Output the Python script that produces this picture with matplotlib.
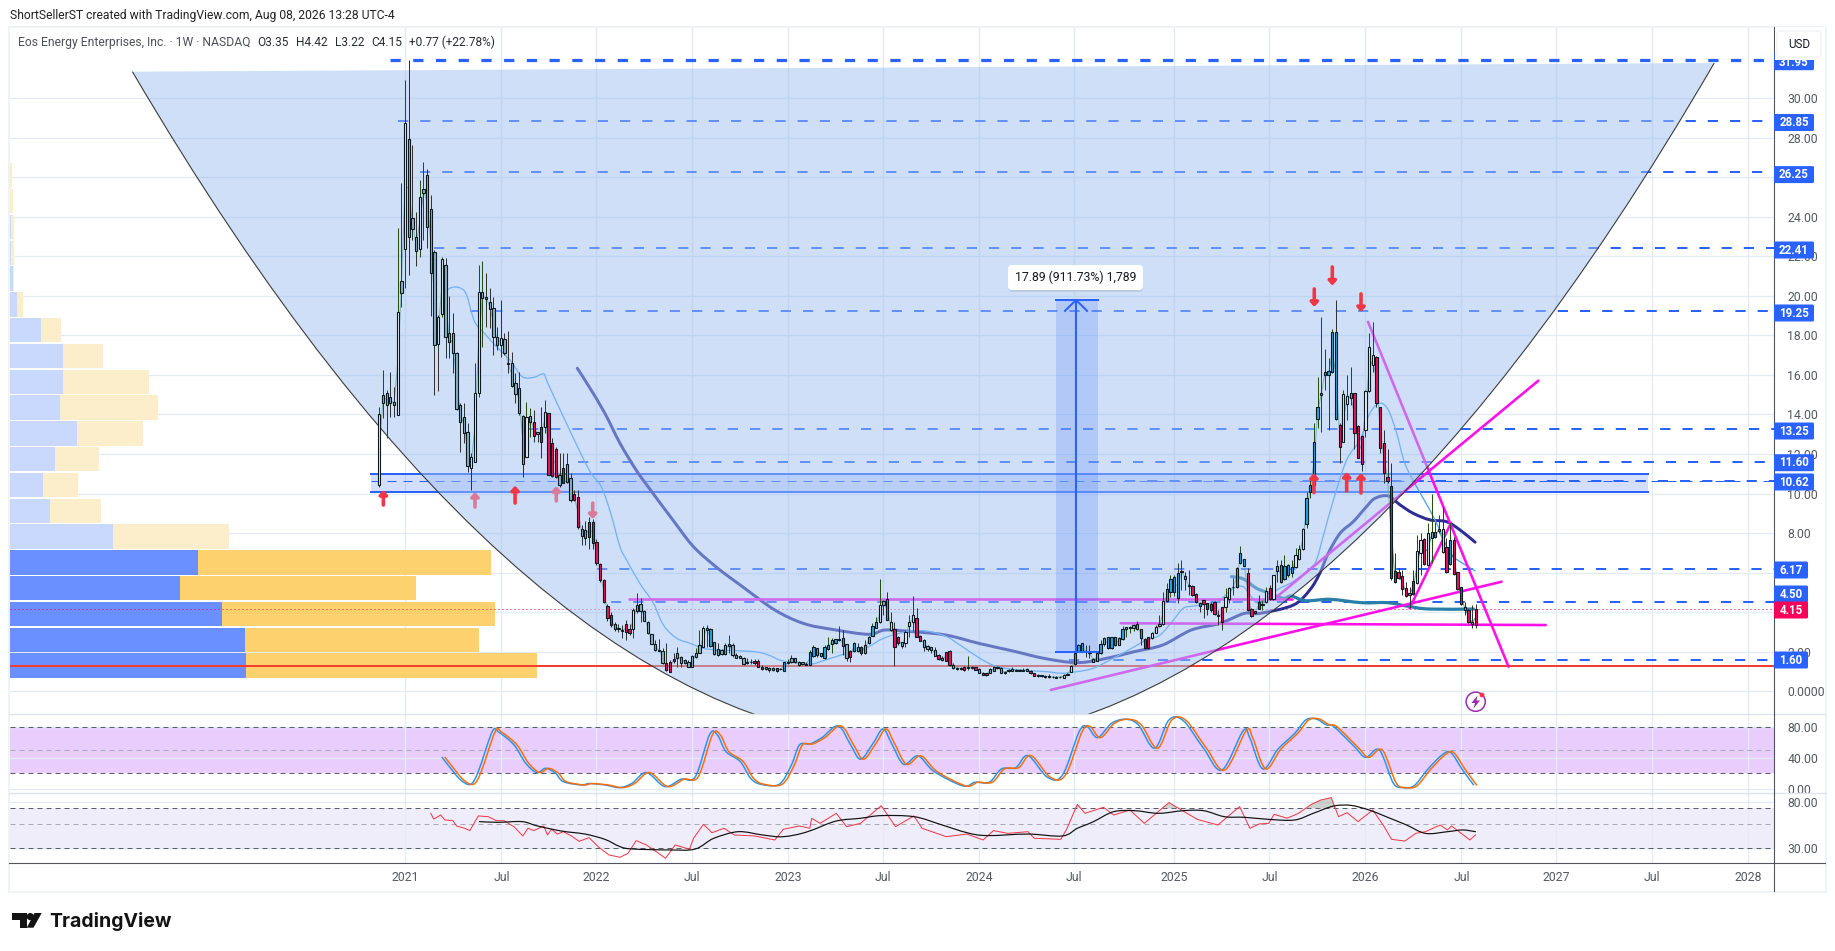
import numpy as np
import matplotlib
matplotlib.use("Agg")
import matplotlib.pyplot as plt
from matplotlib.path import Path
from matplotlib.patches import PathPatch, Rectangle, FancyBboxPatch, Circle, Polygon

plt.rcParams['font.family'] = ['Roboto', 'DejaVu Sans']

# ---- weekly candles: (high, body top, body bottom, low, kind)
bars_2020_21 = [
(14.39,14.01,10.43,10.35,'w'),(16.25,14.97,14.6,13.8,'g'),(15.24,15.10,14.48,12.79,'g'),(16.16,14.9,14.6,13.89,'g'),
(15.41,14.61,14.5,13.89,'g'),(23.41,19.17,13.99,13.99,'w'),(25.69,20.77,20.13,19.45,'g'),(30.92,28.73,22.37,20.38,'w'),
(31.95,27.92,22.96,21.05,'g'),(27.63,23.92,23.40,22.82,'g'),(24.26,22.96,22.28,21.51,'g'),(25.86,25.02,22.39,21.98,'w'),
(26.79,25.39,25.18,22.82,'g'),(26.40,26.11,23.5,22.40,'g'),(25.1,24.38,21.17,18.98,'g'),(22.32,22.23,17.53,14.98,'g'),
(19.03,18.91,17.55,15.2,'w'),(21.98,21.85,19.08,18.95,'w'),(21.9,21.54,17.93,16.84,'g'),(19.99,18.10,17.68,16.84,'g'),
(19.11,18.10,17.09,16.08,'g'),(17.18,17.13,14.28,14.23,'g'),(14.56,14.48,13.64,12.12,'g'),(14.56,13.85,13.08,12.54,'g'),
(13.55,13.13,11.41,11.11,'g'),(12.03,11.87,11.28,10.18,'w'),(16.6,15.1,11.61,11.61,'w'),(21.56,20.21,15.07,14.87,'w'),
(21.76,20.18,19.91,17.43,'g'),(21.14,19.92,19.82,18.44,'g'),(20.38,19.7,19.32,18.36,'g'),(19.96,19.4,17.93,17.0,'g'),
(18.44,17.93,17.53,17.26,'g'),(19.79,17.88,17.53,16.92,'w'),(18.1,17.8,17.09,17.0,'g'),(18.22,16.59,16.55,16.08,'g'),
(17.14,16.62,15.46,15.37,'g'),(16.08,15.61,15.03,14.56,'g'),(16.16,15.35,14.06,13.97,'g'),(13.97,13.94,11.48,10.85,'g'),
(14.65,13.85,11.87,11.87,'w'),(14.31,13.94,13.64,12.88,'g'),(14.23,13.64,12.91,12.62,'r'),(13.13,13.13,13.03,12.62,'g'),
(14.39,13.38,12.59,11.78,'r'),(14.73,14.14,13.38,13.04,'w'),(14.09,14.09,10.94,10.94,'r'),(12.79,12.54,10.9,10.85,'r'),
(12.34,12.24,10.82,10.77,'r'),(12.03,10.94,10.43,10.35,'g'),(12.03,11.28,10.55,10.52,'r'),(12.03,11.48,10.6,10.52,'g'),
(11.02,10.77,9.67,9.59,'g'),(10.18,9.96,9.67,9.64,'r'),(10.2,9.81,8.3,8.2,'r'),(8.41,8.21,7.86,7.4,'g'),
(8.6,8.16,7.75,7.4,'g'),(8.8,8.56,7.79,7.2,'r'),(8.7,8.56,7.5,7.2,'r'),(7.7,7.57,6.5,6.4,'r'),
]
bars_2022 = [
(6.5,6.42,5.63,5.55,'r'),(5.7,5.63,4.53,4.45,'r'),(4.4,4.33,3.69,3.55,'r'),(4.0,3.86,3.35,3.25,'r'),(3.5,3.39,3.13,3.05,'g'),
(3.4,3.22,3.13,3.0,'g'),(3.35,3.1,3.07,2.68,'g'),(3.6,3.39,2.98,2.6,'r'),(3.4,3.13,2.93,2.85,'r'),(4.2,4.11,3.15,2.68,'w'),
(4.95,4.37,4.08,3.95,'g'),(4.7,4.4,4.08,3.52,'g'),(4.1,4.06,3.57,3.55,'g'),(3.56,3.5,2.93,2.9,'g'),(2.9,2.9,2.39,2.37,'g'),
(2.6,2.38,2.09,2.05,'g'),(2.66,2.09,2.06,2.04,'g'),(2.17,2.06,1.42,1.4,'g'),(2.43,1.42,1.08,1.0,'r'),(1.58,1.5,0.99,0.97,'r'),
(1.95,1.63,1.53,1.45,'r'),(2.22,1.92,1.67,1.25,'g'),(1.76,1.75,1.42,1.25,'g'),(1.62,1.58,1.45,1.4,'g'),(1.58,1.47,1.21,1.21,'g'),
(1.84,1.79,1.25,1.21,'g'),(2.17,1.95,1.75,1.67,'g'),(3.1,2.32,1.95,1.92,'g'),(3.3,3.18,2.26,2.22,'w'),(3.35,3.18,3.1,2.26,'g'),
(3.2,3.13,2.29,2.26,'t'),(2.51,2.48,1.87,1.84,'g'),(2.42,2.14,1.82,1.8,'g'),(2.12,2.09,1.87,1.84,'g'),(2.42,2.32,1.89,1.84,'g'),
(2.85,2.38,2.29,1.92,'g'),(2.42,2.32,1.82,1.75,'g'),(1.92,1.84,1.7,1.67,'g'),(1.84,1.79,1.7,1.67,'g'),(1.72,1.7,1.36,1.33,'g'),
(1.67,1.5,1.45,1.38,'g'),(1.62,1.5,1.47,1.38,'g'),(1.62,1.52,1.45,1.33,'r'),(1.62,1.55,1.21,1.21,'r'),(1.33,1.21,1.14,1.08,'r'),
(1.25,1.21,1.11,1.08,'g'),(1.25,1.18,1.08,0.99,'g'),(1.25,1.2,1.08,1.03,'g'),(1.2,1.16,1.03,0.99,'r'),(1.16,1.14,1.11,1.08,'g'),
(1.5,1.47,1.04,1.04,'t'),(1.65,1.48,1.42,1.38,'g'),(1.84,1.67,1.47,1.41,'g'),(1.7,1.67,1.5,1.41,'g'),(1.55,1.5,1.33,1.28,'g'),
(1.5,1.48,1.38,1.33,'g'),(1.5,1.38,1.35,1.33,'g'),(2.09,2.0,1.35,1.33,'t'),(2.34,2.26,1.8,1.75,'t'),(2.2,2.17,1.84,1.72,'t'),
(1.95,1.92,1.79,1.72,'g'),(2.34,2.22,1.67,1.63,'t'),(2.76,2.34,2.12,2.09,'t'),(2.68,2.6,2.39,1.92,'g'),(2.66,2.63,2.43,2.4,'t'),
(3.3,2.63,2.58,2.56,'g'),(3.1,2.68,2.29,1.84,'t'),(2.38,2.38,1.7,1.53,'g'),(2.1,2.04,1.72,1.5,'r'),(2.51,2.43,2.06,1.99,'t'),
(2.46,2.22,2.06,2.0,'g'),(2.3,2.22,1.92,1.85,'r'),(2.6,2.34,1.92,1.87,'g'),(2.8,2.73,2.43,2.4,'g'),(3.47,3.32,2.81,2.8,'t'),
(3.77,3.49,3.18,3.18,'g'),(5.66,4.37,3.49,3.44,'w'),(4.62,4.58,4.37,3.86,'g'),(5.04,4.67,3.61,3.6,'t'),
]
bars_2023_24 = [
(4.03,3.5,3.1,3.07,'w'),(3.52,3.13,2.26,1.28,'r'),(2.8,2.73,2.43,2.34,'r'),(2.51,2.48,2.31,2.2,'g'),(3.1,2.98,2.43,2.26,'w'),
(3.86,3.49,3.32,2.76,'w'),(4.82,3.84,3.49,3.07,'w'),(4.2,3.69,2.76,2.73,'r'),(2.85,2.8,2.56,2.53,'r'),(2.63,2.6,2.26,2.06,'g'),
(2.32,2.29,2.16,2.06,'g'),(2.24,2.22,2.07,1.92,'g'),(2.22,2.07,1.8,1.78,'g'),(1.86,1.84,1.63,1.6,'r'),(1.78,1.7,1.58,1.55,'g'),
(2.0,1.99,1.55,1.53,'r'),(2.08,2.06,1.31,1.28,'r'),(1.41,1.33,1.16,1.14,'g'),(1.25,1.2,1.13,1.08,'g'),(1.25,1.2,1.13,1.06,'g'),
(1.3,1.25,1.08,1.03,'r'),(1.78,1.25,1.16,1.08,'g'),(1.28,1.21,1.16,1.11,'g'),(1.25,1.21,1.08,1.06,'r'),(1.16,1.11,0.92,0.9,'g'),
(0.97,0.94,0.82,0.8,'r'),(0.94,0.92,0.81,0.78,'r'),(1.16,1.14,0.94,0.9,'g'),(1.28,1.21,1.04,1.01,'g'),(1.28,1.25,1.16,1.11,'g'),
(1.22,1.2,0.94,0.9,'g'),(1.03,0.99,0.94,0.87,'g'),(1.11,1.08,1.03,0.97,'g'),(1.21,1.13,1.04,1.01,'g'),(1.11,1.08,1.04,1.0,'g'),
(1.11,1.08,1.04,1.0,'g'),(1.16,1.09,1.03,1.0,'g'),(1.16,1.13,1.01,1.0,'g'),(1.06,1.03,0.91,0.88,'r'),(0.94,0.91,0.77,0.75,'r'),
(0.87,0.82,0.76,0.72,'g'),(0.84,0.81,0.76,0.72,'g'),(0.84,0.79,0.71,0.68,'g'),(0.86,0.77,0.72,0.68,'g'),(0.77,0.74,0.71,0.68,'g'),
(0.77,0.74,0.69,0.66,'g'),(0.75,0.74,0.71,0.68,'g'),(0.86,0.82,0.69,0.68,'w'),(0.94,0.89,0.84,0.82,'g'),(1.31,1.28,0.99,0.97,'w'),
(2.0,1.92,1.36,1.33,'t'),(2.38,2.32,2.04,2.0,'t'),(2.46,2.43,1.99,1.97,'t'),(2.36,2.04,1.99,1.75,'g'),(2.34,2.0,1.95,1.66,'g'),
(1.7,1.65,1.5,1.48,'g'),(1.95,1.92,1.55,1.53,'g'),(2.6,2.38,1.92,1.9,'t'),(2.76,2.68,2.38,2.3,'g'),(2.76,2.73,2.17,2.12,'t'),
(2.76,2.73,2.17,2.12,'t'),(2.76,2.73,2.32,2.29,'t'),(2.73,2.68,2.34,2.32,'g'),(3.32,3.13,2.63,2.6,'t'),(3.27,3.23,3.13,2.76,'g'),
(3.32,3.23,3.18,2.96,'g'),(3.4,3.35,3.18,3.05,'g'),(3.57,3.4,3.15,3.1,'g'),(3.15,3.13,2.68,2.34,'t'),(2.68,2.65,2.17,2.12,'r'),
(2.76,2.73,2.17,2.12,'r'),(3.02,2.93,2.71,2.63,'w'),(3.35,3.23,2.97,2.93,'w'),(3.86,3.4,3.3,3.27,'g'),(5.04,4.55,3.38,3.36,'w'),
(5.46,5.16,4.58,4.53,'t'),(5.88,5.66,5.04,4.79,'t'),(5.9,5.8,5.0,4.82,'t'),(6.47,6.0,4.7,4.45,'t'),
]
bars_2025 = [
(6.64,6.08,6.05,5.12,'g'),(6.05,5.83,5.7,5.12,'g'),(6.14,5.36,5.33,4.87,'g'),(5.38,5.33,4.87,4.84,'r'),(4.96,4.9,4.5,4.45,'r'),
(4.53,4.45,4.33,4.03,'t'),(4.62,4.6,4.43,3.69,'r'),(4.48,4.45,4.15,3.86,'r'),(4.53,4.4,4.13,4.03,'r'),(4.58,4.52,3.91,3.86,'r'),
(4.11,3.86,3.83,3.35,'g'),(4.28,4.25,3.49,3.1,'r'),(5.21,4.75,4.28,4.03,'w'),(5.29,5.21,4.65,4.45,'w'),(5.71,5.29,5.26,4.87,'g'),
(6.3,6.22,5.26,5.21,'t'),(7.37,6.98,6.47,6.44,'t'),(6.71,6.71,6.35,6.34,'t'),(6.22,5.97,4.11,4.08,'r'),(4.2,4.15,3.81,3.74,'r'),
(4.08,4.05,3.94,3.91,'r'),(4.87,4.5,4.18,4.15,'r'),(4.62,4.42,4.36,4.11,'g'),(5.29,5.06,4.5,4.48,'w'),(5.38,5.21,4.67,4.62,'r'),
(5.9,5.87,4.65,4.62,'w'),(6.64,6.35,6.1,5.55,'g'),(6.64,6.39,5.51,5.46,'t'),(6.89,6.35,5.66,5.63,'t'),(6.44,6.39,5.87,5.8,'t'),
(6.64,6.3,5.97,5.8,'t'),(7.23,6.89,6.3,6.22,'w'),(7.4,7.18,6.69,6.64,'w'),(8.24,8.19,7.18,7.15,'w'),(10.1,9.76,8.45,8.24,'t'),
(10.69,10.43,10.1,9.76,'t'),(13.56,12.6,10.44,10.35,'t'),(15.92,14.4,13.79,13.3,'t'),(18.95,15.07,15.01,13.13,'g'),
(17.3,16.14,16.02,15.24,'t'),(16.84,16.2,15.98,13.22,'t'),(18.31,18.19,16.17,16.09,'t'),(19.79,18.19,13.76,13.72,'t'),
(13.56,13.47,12.34,11.57,'r'),(15.24,15.02,12.63,12.6,'w'),(16.0,14.96,14.52,13.72,'w'),(16.42,15.07,14.82,14.48,'g'),
(15.11,15.07,13.05,12.24,'r'),(13.47,13.42,11.82,11.79,'r'),(12.97,12.93,11.48,11.15,'r'),(15.24,15.21,13.22,12.88,'w'),
]
bars_2026 = [
(18.11,17.4,15.21,15.16,'w'),(18.66,17.01,16.51,16.17,'w'),(16.96,16.93,14.6,14.37,'r'),(14.4,14.37,12.29,12.04,'r'),
(13.22,12.54,11.03,10.55,'r'),(12.24,10.86,10.66,10.52,'r'),(11.53,10.4,5.72,5.63,'r'),(6.98,6.09,5.51,5.46,'r'),
(6.22,6.02,5.73,5.7,'r'),(6.14,5.85,5.19,4.87,'r'),(5.55,5.21,4.84,4.79,'r'),(5.29,4.96,4.86,4.2,'g'),(6.14,5.6,4.91,4.87,'r'),
(7.91,7.12,5.46,5.43,'w'),(8.0,7.66,6.98,5.88,'w'),(7.74,7.69,6.42,6.39,'r'),(8.5,8.0,6.37,6.34,'w'),(9.98,8.04,7.77,6.47,'g'),
(8.58,8.04,7.79,7.74,'t'),(8.92,8.19,8.13,8.0,'g'),(9.34,8.19,7.06,6.98,'w'),(7.74,7.32,6.05,5.97,'r'),(8.5,7.66,6.44,6.39,'t'),
(7.82,7.66,5.94,5.88,'r'),(6.05,6.02,5.18,5.13,'r'),(5.29,5.26,4.42,4.37,'r'),(4.54,4.25,4.11,3.86,'g'),(4.15,4.11,3.52,3.47,'r'),
(4.37,3.52,3.39,3.19,'g'),(4.42,4.15,3.35,3.22,'r'),
]

# ---- moving averages on the price pane: bar number, value
ma_fast_bar = [18.4,20,22.1,23.7,25.9,28.6,31.8,35.5,38.8,42,44.7,45.8,51.7,57,60.3,62.9,65.4,67.2,70.8,74.5,77.2,80.8,84.4,88.1,91.7,96.2,102.6,106.2,109.8,117.1,120.7,126.1,132.5,136.1,138.8,140.6,145.1,149.6,154.2,157.8,163.2,167.8,174.1,181.4,185.4,189.5,194,199.5,204.9,208.5,212.2,215.8,218.5,221.2,227.6,232.1,234.8,236.6,239.3,243.9,248.4,253,254.7,256.5,259.3,262.9,266.5,269.2,271.9,274.2,276.5,278.7,281.9,285.5,288.2,291,293.7,297.8]
ma_fast_val = [20.3,20.44,20.39,20.05,18.7,18.1,17.44,16.76,15.92,15.88,16.05,15.58,13.22,11.2,10.35,9.0,7.31,6.64,5.46,4.45,3.35,2.68,2.43,2.17,2.09,2.06,1.99,1.8,1.53,1.38,1.55,1.87,2.22,2.6,2.8,2.9,3.07,3.02,2.76,2.34,1.67,1.25,1.08,0.99,0.91,0.99,1.16,1.67,2.22,2.6,2.85,3.6,4.2,4.31,4.53,5.21,5.29,4.87,4.45,5.12,5.55,6.22,6.64,7.82,9.68,11.7,12.71,14.06,14.57,14.23,13.05,11.53,10.35,9.17,8.16,6.98,6.56,6.09]
ma_slow_bar = [53.8,57,61.3,65.4,69.8,73.7,79.8,85.4,92,98.7,107.5,115.3,123.1,133,137.5,145.3,154.1,163,171.9,180.8,189.3,196.3,205.1,212.9,220.7,228.4,235.1,239.3,248.4,252.9,255.6,257.9,261.1,264.7,268.3,270.6,274.2,277.4,281,285.5,290,293.7,297.8]
ma_slow_val = [16.34,15.41,14.06,12.55,11.19,10.18,8.66,7.31,6.22,5.29,4.11,3.43,3.13,2.88,3.1,3.01,2.84,2.42,2.05,1.66,1.45,1.61,2.0,2.34,3.1,3.43,3.94,3.94,4.36,5.13,5.97,6.98,7.99,8.58,9.34,9.76,9.88,9.43,9.0,8.67,8.58,8.16,7.54]
ma_teal_bar = [231.6,234.8,238.4,242,245.7,247.8,251.8,258.4,267,274.1,279.2,285.3,297.4]
ma_teal_val = [5.8,5.68,5.21,4.96,4.7,4.82,4.58,4.65,4.48,4.48,4.31,4.16,4.16]

# ---- horizontal levels: price, first bar
levels = [31.95,28.85,26.25,22.41,19.25,13.25,11.60,6.17,4.50,1.60]
level_start = [2.9,5.1,11,14.9,24.6,40.4,54,59.2,63,187.4]
level_10_62 = 10.62
last_close = 4.15
support = 1.28

# ---- volume profile by price row
vp_row_price = [1.30,2.605,3.91,5.215,6.52,7.825,9.13,10.435,11.74,13.045,14.35,15.655,16.96,18.265,19.57,20.875,22.18,23.485,24.79,26.095]
vp_up = [236.5,235.5,212.5,170.5,188.5,103.5,40.5,33.5,45.5,67.5,50.5,53.5,53.5,31.5,7.5,4,1.5,1.5,1,0.8]
vp_down = [291,234,273,236,293,116,51,35,44,66,98,86,40,20,6,0.6,3,3,2.5,2]

# ---- stochastic RSI
stoch_bar = [17.06,19.4,22.1,24.8,26.9,30.7,32.5,36.6,39.8,42.8,45.2,47.9,50,54.9,57,61.3,65.4,68.7,72.6,77.6,82,85.9,89.8,92,94.2,98.1,100.9,103.7,108.7,112,114.2,117,120.3,124.7,128.1,130.8,134.2,136.9,139.2,142.5,146.4,150.8,158.6,161.9,165.8,169.1,173,176.3,181.6,185.7,190.2,192.4,195.2,199,202.9,206.3,210.7,214.6,218.5,224,229,234.8,236.6,240.1,244.2,248.8,251.8,254.6,257.4,259.4,265,268,271,272.6,275.6,278.2,281.2,284.8,288.8,291.2,294.4,297.4]
stoch_k = [40.9,26.7,11.7,6.1,22.5,74,73.2,56.9,33.2,21.2,26.7,20.3,9.5,5.2,7,5.2,1.8,7.4,21.2,3.1,12.6,16,70.6,68.9,48.3,35.4,13.9,6.1,6.1,31,56.9,58.1,66.3,81.4,56.9,38.4,59,77.5,59,31.9,42.7,22.5,4,8.7,8.7,25.9,27.6,43.1,15.1,18.2,74,80.5,66.3,84.8,90,82.7,52.6,89.1,88.2,52.6,24.6,75.3,65.5,25.9,51.3,71.9,89.1,90.4,82.7,80.5,54.7,40.9,51.3,43.9,7.4,1.8,4,24.6,43.9,46.9,24.6,5.2]

# ---- RSI and its average
rsi_bar = [14,14.8,16.7,17.8,20,21,23.2,24.6,26.9,29.6,31.8,33.9,36.6,39,40.4,42,44.7,45.7,46.8,48.4,50,52.2,54.3,57,59.7,62.4,65.4,67.6,69.8,72.6,75.9,77.8,80.4,84.3,85.4,88.1,90.4,93.7,96.5,102,107.5,109.8,114.2,117,117.5,119.8,124.2,127,130.8,136.4,140.3,145.3,147.5,154.1,159.7,164.1,166.9,170.8,176.3,178,185.2,186.8,189.7,191.8,196.8,199.6,204,207.9,214.6,222.3,227.9,233.8,236.6,239.1,241.7,243.2,246.7,249.8,253.3,255.9,258.7,260.7,263,266,270,273.1,275.1,278.7,281.7,284.3,288.3,290.3,291.4,296.4,297.9]
rsi_val = [62.7,55.5,60.5,54.4,53.6,47.8,45.5,43.3,59.3,58.4,53.6,53.6,47.1,38.6,45.5,43.3,47.8,39.4,44.5,40.2,42.3,38.6,34.4,37.2,30.2,25.7,24.4,26.6,34.9,31.8,26.6,23.9,31.8,29,36.7,49.5,41.4,45.5,39.4,38.6,35.4,44.5,47.8,45.5,56.4,50.6,62.7,47.1,50.6,73.9,47.1,59.3,45.5,38,40.2,35.4,43.3,40.8,42.3,36.7,35.9,44.5,76.1,62.7,71.4,60.5,67.4,50.6,78.9,55.1,48.8,72.4,45.5,49.9,50.6,61.4,56.4,62.7,76.1,83.5,87.8,58.4,63.6,52.5,67.4,47.1,35.9,34.6,40.8,42.3,48.8,43.9,47.8,35.4,39.4]
rsi_ma_bar = [27.2,32.3,38.8,43,49.5,55.9,61.3,65.4,68.7,78.7,85.9,90.9,97.6,104.2,109.8,116.4,124.2,130.8,136.4,145.3,153,159.7,165.2,176.3,185.7,189.7,194.1,199.6,205.2,211.8,218.5,224,229.6,235.1,241.7,248.8,253.8,259.4,264,269,273.6,279.2,284.3,290.3,294.4,297.9]
rsi_ma_val = [52.5,51.7,52.5,47.8,42.9,40.2,35.9,30.7,29.2,28.6,29.2,36.7,42.3,39.4,38,42.3,53.2,56.4,59.7,58.4,48.8,41.4,38.9,40.2,38.6,45.5,52.5,65,66.4,62.7,66.4,66.4,58.4,57.6,55.1,54.4,62.7,73.4,74.4,67.4,58.4,48.8,40.8,42.3,43.9,42.3]

# ---- time axis
x_tick_bar = [7,33.2,58.9,85,111.2,136.9,163.1,188.8,216,241.9,267.9,294.1,319.8,345.9,371.9]
x_tick_lab = ['2021','Jul','2022','Jul','2023','Jul','2024','Jul','2025','Jul','2026','Jul','2027','Jul','2028']
price_ticks = [0,2,4,6,8,10,12,14,16,18,20,22,24,26,28,30]
price_tick_hidden = [4,6,26]

def curve_path(xs, ys):
    """A smooth Catmull-Rom path through the read points."""
    x = np.asarray(xs, float); y = np.asarray(ys, float)
    v = [(x[0], y[0])]; c = [Path.MOVETO]
    for i in range(len(x)-1):
        a = max(i-1, 0); d = min(i+2, len(x)-1)
        v += [(x[i]+(x[i+1]-x[a])/6, y[i]+(y[i+1]-y[a])/6),
              (x[i+1]-(x[d]-x[i])/6, y[i+1]-(y[d]-y[i])/6),
              (x[i+1], y[i+1])]
        c += [Path.CURVE4]*3
    return Path(v, c)

def draw_curve(a, xs, ys, color, lw, z):
    a.add_patch(PathPatch(curve_path(xs, ys), fc='none', ec=color, lw=lw, zorder=z, capstyle='round', joinstyle='round'))

W, H = 1835, 951
fig = plt.figure(figsize=(W/100, H/100), dpi=100, facecolor='white')
PX = 0.72
def pane(t, b):
    return fig.add_axes([9.5/W, 1-b/H, (1773.5-9.5)/W, (b-t)/H])
ax = pane(27, 714)
ax_st = pane(714, 793)
ax_rs = pane(793, 863)
XMIN, XMAX = -100.5, 378.9
GRID = '#e3ebf3'
TXT = '#55585f'
for a in (ax, ax_st, ax_rs):
    a.set_xlim(XMIN, XMAX)
    a.set_xticks(x_tick_bar)
    a.grid(True, color=GRID, lw=1.4*PX, zorder=0)
    a.set_axisbelow(True)
    a.yaxis.tick_right()
    a.tick_params(axis='both', length=0, labelsize=8.8, labelcolor=TXT, pad=10)
    for s in a.spines.values():
        s.set_visible(False)
    a.patch.set_alpha(0)
    a.tick_params(axis='x', labelbottom=False)
ax_rs.tick_params(axis='x', labelbottom=True, pad=6)
ax_rs.set_xticklabels(x_tick_lab)

# ---- price pane
ax.set_ylim(-1.15, 33.6)
ax.set_yticks(price_ticks)
ax.set_yticklabels(['0.0000' if v == 0 else ('' if v in price_tick_hidden else f'{v:.2f}') for v in price_ticks])

# volume profile
x0 = XMIN
up = np.array(vp_up)/3.68
down = np.array(vp_down)/3.68
hl = np.arange(len(vp_up)) < 5
ax.barh(vp_row_price, up, left=x0, height=1.24, color=np.where(hl, '#6a90ff', '#c9d8fd'), zorder=1)
ax.barh(vp_row_price, down, left=x0+up, height=1.24, color=np.where(hl, '#fcd16e', '#fdeecb'), zorder=1)

BLUE = '#2962ff'
MAG = '#ff10e8'
# zone
ax.add_patch(Rectangle((-2.3, 10.1), 347.2, 0.89, fc=BLUE, alpha=0.2, ec='none', zorder=2))
ax.plot([-2.3, 344.9], [10.99, 10.99], color=BLUE, lw=2*PX, zorder=2.2)
ax.plot([-2.3, 344.9], [10.1, 10.1], color=BLUE, lw=2*PX, zorder=2.2)
# levels
for i, (p, s) in enumerate(zip(levels, level_start)):
    if i == 0:
        ax.plot([s, XMAX], [p, p], color=BLUE, lw=3.2*PX, ls=(0, (3.2, 3.9)), zorder=2.4)
    else:
        ax.plot([s, XMAX], [p, p], color=BLUE, lw=2*PX, ls=(0, (5.1, 6.0)), zorder=2.4)
ax.plot([-2.3, XMAX], [level_10_62]*2, color=BLUE, lw=1*PX, ls=(0, (9, 7)), zorder=2.4)
ax.plot([202.6, XMAX], [level_10_62]*2, color=BLUE, lw=2*PX, ls=(0, (5.1, 6.0)), zorder=2.4)
ax.plot([XMIN, XMAX], [support]*2, color='#f23d2f', lw=2*PX, zorder=2.5)
ax.plot([XMIN, XMAX], [last_close]*2, color='#f7045a', lw=1*PX, ls=(0, (1, 3)), zorder=2.5)

# moving averages
draw_curve(ax, ma_slow_bar, ma_slow_val, '#2f2c96', 3*PX, 2.6)
draw_curve(ax, ma_fast_bar, ma_fast_val, '#4ba3f7', 1.3*PX, 2.6)
draw_curve(ax, ma_teal_bar, ma_teal_val, '#2a7fa8', 3.2*PX, 2.6)

# magenta trend lines
for xs, ys in [([268.7, 306.9], [18.69, 1.24]), ([242.9, 315], [4.62, 15.71]), ([182.5, 305], [0.07, 5.54]),
               ([67.9, 248], [4.67, 4.67]), ([201.5, 317], [3.44, 3.35]), ([280, 291], [4.2, 8.41])]:
    ax.plot(xs, ys, color=MAG, lw=2.6*PX, zorder=2.7, solid_capstyle='round')

# candles
rows = bars_2020_21 + bars_2022 + bars_2023_24 + bars_2025 + bars_2026
idx = np.arange(len(rows))
hi = np.array([r[0] for r in rows])
top = np.array([r[1] for r in rows])
bot = np.array([r[2] for r in rows])
lo = np.array([r[3] for r in rows])
kind = [r[4] for r in rows]
mid = (top + bot)/2
ax.plot(idx, mid, color='#1f8a55', lw=1.1*PX, alpha=0.7, zorder=2.8)
# rotated parabola drawn as a quadratic bezier
p0, pc, p2 = (-67.1, 31.34), (148.15, -36.96), (362.8, 31.78)
fillp = Path([p0, pc, p2, p0], [Path.MOVETO, Path.CURVE3, Path.CURVE3, Path.CLOSEPOLY])
ax.add_patch(PathPatch(fillp, fc='#9fc1f1', ec='none', alpha=0.5, zorder=4))
ax.add_patch(PathPatch(Path([p0, pc, p2], [Path.MOVETO, Path.CURVE3, Path.CURVE3]), fc='none', ec='#3a3a3a', lw=1.1*PX, zorder=4.2))

wick_cols = ['#333333' if (k == 'r' or (i > 0 and mid[i] < mid[i-1])) else '#24500f' for i, k in enumerate(kind)]
ax.vlines(idx, lo, hi, colors=wick_cols, lw=1*PX, zorder=5)
palette = {'w': '#e6eef7', 'g': '#8db2c2', 't': '#2aa6e0', 'r': '#f0115f'}
ax.bar(idx, top-bot, bottom=bot, width=0.62, color=[palette[k] for k in kind], edgecolor='#0c1a20', lw=1.1*PX, zorder=5.2)

# arrows: bar, tail, tip, colour
arrows = [(1.1, 9.42, 10.18, '#f23645'), (26, 9.32, 10.08, '#d97a9a'), (36.9, 9.52, 10.4, '#f23645'),
          (48.1, 9.63, 10.38, '#d97a9a'), (58, 9.52, 8.71, '#d97a9a'), (254.1, 20.35, 19.44, '#f23645'),
          (259, 21.46, 20.52, '#f23645'), (266.8, 20.1, 19.18, '#f23645'), (254, 10.05, 11.04, '#f23645'),
          (262.9, 10.13, 11.09, '#f23645'), (266.8, 10.03, 11.04, '#f23645')]
for b, tail, tip, c in arrows:
    ax.annotate('', xy=(b, tip), xytext=(b, tail), zorder=6,
                arrowprops=dict(arrowstyle='-|>,head_width=0.22,head_length=0.24', color=c, lw=3.6*PX, shrinkA=0, shrinkB=0))

# measure tool
m_l, m_r, m_x, m_b, m_t = 183.9, 195.2, 189.35, 2.0, 19.79
ax.add_patch(Rectangle((m_l, m_b), m_r-m_l, m_t-m_b, fc=BLUE, alpha=0.17, ec='none', zorder=4.5))
ax.plot([m_x, m_x], [m_b, m_t], color=BLUE, lw=2*PX, zorder=6)
ax.plot([m_l, m_r], [m_b, m_b], color=BLUE, lw=2*PX, zorder=6)
ax.plot([m_l, m_r], [m_t, m_t], color=BLUE, lw=2*PX, zorder=6)
ax.plot([m_x-3, m_x, m_x+3], [m_t-0.55, m_t, m_t-0.55], color=BLUE, lw=2*PX, zorder=6)

# ---- stochastic pane
ax_st.set_ylim(-5.2, 96.8)
ax_st.set_yticks([0, 40, 80])
ax_st.set_yticklabels(['0.00', '40.00', '80.00'])
ax_st.axhspan(20, 80, color='#e9cdfd', zorder=0.2, lw=0)
for v, c in [(80, '#5a5d66'), (20, '#5a5d66'), (50, '#a9a9b5')]:
    ax_st.axhline(v, color=c, lw=1*PX, ls=(0, (5, 4)), zorder=1)
draw_curve(ax_st, np.array(stoch_bar), stoch_k, '#2196f3', 1.5*PX, 3)
draw_curve(ax_st, np.array(stoch_bar)+0.8, stoch_k, '#ff6d00', 1.5*PX, 3.2)

# ---- RSI pane
ax_rs.set_yscale('log')
ax_rs.set_ylim(21.6, 97)
ax_rs.set_yticks([30, 80])
ax_rs.set_yticklabels(['30.00', '80.00'])
ax_rs.minorticks_off()
ax_rs.axhspan(30, 70, color='#f0edfa', zorder=0.2, lw=0)
for v, c in [(70, '#5a5d66'), (30, '#5a5d66'), (50, '#a9a9b5')]:
    ax_rs.axhline(v, color=c, lw=1*PX, ls=(0, (5, 4)), zorder=1)
ax_rs.fill_between(rsi_bar, rsi_val, 70, where=np.array(rsi_val) > 70, color='#9aa89f', alpha=0.5, lw=0, zorder=2, interpolate=True)
ax_rs.plot(rsi_bar, rsi_val, color='#f23645', lw=1*PX, zorder=3)
draw_curve(ax_rs, rsi_ma_bar, rsi_ma_val, '#111111', 1.2*PX, 3.2)

# ---- chrome, in pixels
cx = fig.add_axes([0, 0, 1, 1], zorder=10)
cx.set_xlim(0, W); cx.set_ylim(H, 0); cx.axis('off')
cx.add_patch(Rectangle((8.5, 26.5), 1817, 865, fc='none', ec='#f0f3f5', lw=2*PX))
cx.plot([9, 1825], [714, 714], color='#e0e3eb', lw=1.4*PX)
cx.plot([9, 1825], [793, 793], color='#e0e3eb', lw=1.4*PX)
cx.plot([9, 1825], [863, 863], color='#50535c', lw=1.1*PX)
cx.plot([1773.5, 1773.5], [27, 891], color='#50535c', lw=1.1*PX)

tags = [('31.95', 61.7, BLUE, 1814), ('28.85', 122.5, BLUE, 1814), ('26.25', 174.6, BLUE, 1814), ('22.41', 250, BLUE, 1814),
        ('19.25', 313, BLUE, 1814), ('13.25', 431, BLUE, 1814), ('11.60', 462.7, BLUE, 1814), ('10.62', 482, BLUE, 1814),
        ('6.17', 570, BLUE, 1808), ('4.50', 594, BLUE, 1808), ('4.15', 610, '#f7045a', 1808), ('1.60', 660, BLUE, 1808)]
for t, yc, c, xr in tags:
    cx.add_patch(FancyBboxPatch((1774, yc-8.5), xr-1774, 17, boxstyle='round,pad=0,rounding_size=1.5', fc=c, ec='none', zorder=3))
    cx.text((1774+xr)/2, yc+0.3, t, color='white', fontsize=8.3, fontweight='bold', va='center', ha='center', zorder=4)
cx.add_patch(Rectangle((1774.5, 27), 50, 33, fc='white', ec='none', zorder=5))
cx.add_patch(FancyBboxPatch((1777, 31), 44, 26, boxstyle='round,pad=0,rounding_size=3', fc='white', ec='#f0f3f5', lw=1.4*PX, zorder=6))
cx.text(1799, 44.5, 'USD', color='#131722', fontsize=8.4, ha='center', va='center', zorder=7)

cx.text(10, 15, 'ShortSellerST created with TradingView.com, Aug 08, 2026 13:28 UTC-4', fontsize=8.76, color='#222222', va='center')
LG = '#4e5058'
cx.text(18, 42.5, 'Eos Energy Enterprises, Inc. · 1W · NASDAQ', fontsize=8.7, color=LG, va='center')
for t, xp in [('O3.35', 257.4), ('H4.42', 296), ('L3.22', 334.5), ('C4.15', 371), ('+0.77 (+22.78%)', 409)]:
    cx.text(xp, 42.5, t, fontsize=8.6, color='#2a2c33', va='center')

# measure label
cx.add_patch(FancyBboxPatch((1009, 267), 134, 25, boxstyle='round,pad=0,rounding_size=4', fc='#aab4c8', alpha=0.45, ec='none', zorder=7))
cx.add_patch(FancyBboxPatch((1008, 265), 135, 25, boxstyle='round,pad=0,rounding_size=4', fc='white', ec='none', zorder=8))
cx.text(1075.5, 277.5, '17.89 (911.73%) 1,789', fontsize=8.8, color='#131722', ha='center', va='center', zorder=9)

# lightning badge
cx.add_patch(Circle((1475.7, 701.7), 9.6, fc='none', ec='#9c27b0', lw=1.5*PX, zorder=5))
cx.add_patch(Polygon([(1477.5, 695.5), (1471.5, 703), (1475, 703), (1473.5, 708.5), (1480, 700.5), (1476.5, 700.5)], fc='#9c27b0', ec='none', zorder=6))
cx.add_patch(Circle((1482, 695), 2.4, fc='#f23645', ec='none', zorder=7))

# TradingView mark
LOGO = '#131313'
cx.add_patch(Polygon([(12.3, 913), (27, 913), (27, 927.7), (19.5, 927.7), (19.5, 920.3), (12.3, 920.3)], fc=LOGO, ec='none'))
cx.add_patch(Circle((30.3, 916.6), 3.6, fc=LOGO, ec='none'))
cx.add_patch(Polygon([(34.5, 913), (41.7, 913), (33.5, 927.7), (26.8, 927.7)], fc=LOGO, ec='none'))
cx.text(49.5, 921.3, 'TradingView', fontsize=14, fontweight='bold', color=LOGO, va='center', family=['Inter', 'DejaVu Sans'])

fig.savefig('out.png', dpi=100)
